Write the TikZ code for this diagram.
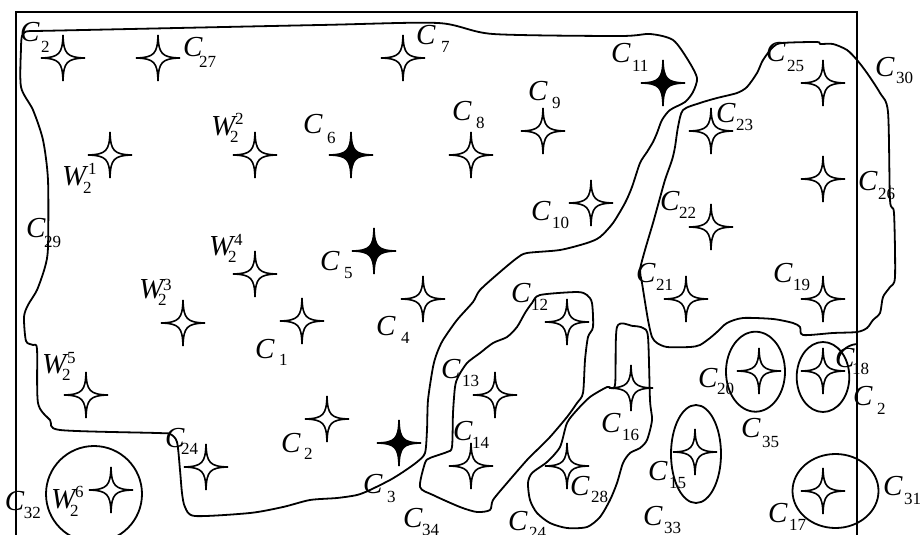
\documentclass[tikz,border=0pt]{standalone}
\usepackage{fontspec}
\setmainfont{Liberation Serif}
\newcommand\subf{\fontsize{17}{17}\selectfont}
\newcommand\clab[6]{\node[lab] (#1) at ({#2-2},#3) {\rlap{\textit{C}}\kern#4pt\raisebox{-#5pt}{\subf #6}};}
\newcommand\wlab[8]{\node[lab] (#1) at ({#2-1},#3) {\rlap{\textit{W}}\rlap{\kern#4pt\raisebox{-#5pt}{\subf 2}}\kern#6pt\raisebox{#7pt}{\subf #8}};}
\tikzset{
  lab/.style={anchor=base west,inner sep=0pt,outer sep=0pt,font=\fontsize{29}{29}\selectfont},
  region/.style={draw=black,line width=1.8pt,line join=round},
  frameline/.style={draw=black,line width=1.8pt},
  starpath/.style={line width=1.6pt,line join=miter},
  ostar/.pic={\draw[starpath] (0,-23) .. controls (0.6,-4) and (4,-0.6) .. (22,0) .. controls (4,0.6) and (0.6,4) .. (0,23) .. controls (-0.6,4) and (-4,0.6) .. (-22,0) .. controls (-4,-0.6) and (-0.6,-4) .. cycle;},
  fstar/.pic={\fill[draw=black,starpath] (0,-23) .. controls (0.6,-4) and (4,-0.6) .. (22,0) .. controls (4,0.6) and (0.6,4) .. (0,23) .. controls (-0.6,4) and (-4,0.6) .. (-22,0) .. controls (-4,-0.6) and (-0.6,-4) .. cycle;}
}
\begin{document}
\begin{tikzpicture}[x=1pt,y=-1pt]
\useasboundingbox (0,0) rectangle (921,535);
\fill[white] (0,0) rectangle (921,535);
% frame
\draw[frameline] (16,535) -- (16,11.7) -- (856.7,11.7) -- (856.7,535);
% big region
\draw[region] plot[smooth cycle,tension=0.45] coordinates {
(26,31.5) (22,36) (21,48) (21,87) (33,110) (43,140) (48,180) (48,247) (45,267) (37,290) (28,305) (24,317) (26,341) (33,345) (37,349) (38,403) (50,420) (60,430) (157,433) (170,434) (177,442) (180,470) (182,493) (185,507) (195,516) (250,513) (283,507) (310,500) (337,498) (357,495) (370,490) (390,480) (403,472) (417,462) (425,453) (427,430) (428,400) (433,367) (437,353) (443,340) (457,320) (473,302) (480,290) (500,272) (517,258) (527,253) (560,250) (587,243) (600,237) (613,223) (625,203) (632,187) (640,163) (647,152) (653,142) (657,133) (662,120) (670,110) (685,102) (693,92) (697,78) (688,60) (673,40) (650,34) (620,36) (493,34) (438,23) (320,25) (60,30.5) (35,31)};
% C12-C14 region
\draw[region] plot[smooth cycle,tension=0.45] coordinates {
(540,295) (577,292) (587,295) (592,303) (593,327) (588,337) (585,360) (583,393) (577,403) (567,417) (550,437) (537,450) (527,460) (507,483) (493,500) (490,510) (477,512) (460,507) (433,495) (420,487) (425,463) (430,458) (447,452) (452,447) (453,413) (455,387) (458,377) (467,363) (480,353) (493,343) (507,337) (517,327) (525,313) (532,303)};
% C16-C28 region
\draw[region] plot[smooth cycle,tension=0.45] coordinates {
(617,327) (633,326) (643,328) (648,337) (650,400) (652,420) (647,440) (640,448) (630,453) (623,463) (617,483) (610,500) (600,517) (587,527) (567,528) (550,523) (537,513) (530,500) (528,483) (532,473) (547,462) (560,447) (567,423) (577,410) (590,397) (607,387) (615,385)};
% right region
\draw[region] plot[smooth cycle,tension=0.45] coordinates {
(683,110) (700,103) (717,98) (737,93) (747,87) (757,73) (763,60) (773,47) (782,43) (817,42) (820,44) (833,44) (847,50) (857,60) (867,73) (880,93) (888,112) (890,200) (894,213) (895,277) (890,287) (883,297) (880,313) (873,320) (867,328) (857,332) (833,333) (803,335) (800,327) (793,323) (773,319) (743,318) (727,323) (717,332) (710,338) (700,345) (690,347) (667,347) (657,343) (652,337) (648,320) (642,283) (640,270) (645,250) (653,223) (658,205) (665,180) (672,160) (675,147) (678,127)};
% ellipses
\draw[region] (755.5,371.7) ellipse [x radius=29.5, y radius=40];
\draw[region] (823,377) ellipse [x radius=26.3, y radius=35];
\draw[region] (696,454) ellipse [x radius=25, y radius=49];
\draw[region] (835.5,491) ellipse [x radius=43, y radius=37];
\draw[region] (94,494) circle [radius=48];
\draw[region] (856.7,344) .. controls (846,345) and (838,353) .. (838,363);
% open stars
\foreach \p in {(63,58),(158,58),(403,58),(110,155),(255,155),(471,155),(543,131),(591,203),(823,83),(711,131),(823,179),(711,227),(255,274),(183,323),(302,321),(86,395),(206,467),(111,490),(423,299),(327,419),(567,322),(495,395),(471,466),(567,466),(686,299),(823,299),(631,388),(759,371),(823,371),(695,452),(823,491)}
  \pic at \p {ostar};
% filled stars
\foreach \p in {(351,155),(374,251),(663,83),(399,443)}
  \pic at \p {fstar};
% C labels
\clab{c2a}{22}{42}{21}{10}{2}
\clab{c27}{185}{57}{16}{10}{27}
\clab{c7}{418}{45}{25}{8}{7}
\clab{c6}{305}{133}{24}{10}{6}
\clab{c8}{454}{120}{24}{8}{8}
\clab{c9}{530}{100}{24}{8}{9}
\clab{c10}{533}{220}{21}{8}{10}
\clab{c11}{613}{63}{21}{9}{11}
\clab{c25}{768}{62}{21}{10}{25}
\clab{c30}{877}{77}{21}{7}{30}
\clab{c23}{718}{122}{20}{8}{23}
\clab{c26}{860}{190}{20}{9}{26}
\clab{c22}{662}{210}{19}{8}{22}
\clab{c21}{638}{282}{20}{8}{21}
\clab{c19}{775}{282}{20}{8}{19}
\clab{c29}{28}{237}{18}{10}{29}
\clab{c5}{322}{270}{24}{8}{5}
\clab{c4}{378}{335}{25}{8}{4}
\clab{c1}{257}{358}{24}{7}{1}
\clab{c12}{513}{302}{20}{8}{12}
\clab{c13}{443}{378}{21}{8}{13}
\clab{c14}{455}{440}{19}{8}{14}
\clab{c2b}{283}{452}{23}{7}{2}
\clab{c24a}{167}{447}{16}{7}{24}
\clab{c3}{365}{493}{24}{9}{3}
\clab{c34}{405}{527}{19}{8}{34}
\clab{c28}{572}{495}{21}{7}{28}
\clab{c24b}{510}{530}{21}{8}{24}
\clab{c16}{603}{432}{21}{8}{16}
\clab{c20}{700}{387}{19}{7}{20}
\clab{c35}{743}{437}{21}{10}{35}
\clab{c18}{837}{367}{17}{7}{18}
\clab{c2c}{855}{405}{24}{9}{2}
\clab{c15}{650}{480}{21}{8}{15}
\clab{c33}{645}{525}{21}{8}{33}
\clab{c31}{885}{495}{21}{9}{31}
\clab{c17}{770}{522}{21}{8}{17}
\clab{c32}{7}{510}{19}{8}{32}
% W labels
\wlab{w1}{63}{185}{21}{8}{26}{11}{1}
\wlab{w2}{212}{135}{19}{7}{24}{11}{2}
\wlab{w4}{210}{255}{19}{7}{25}{10}{4}
\wlab{w3}{140}{298}{19}{7}{24}{8}{3}
\wlab{w5}{43}{373}{20}{7}{25}{10}{5}
\wlab{w6}{52}{508}{19}{8}{24}{11}{6}
\end{tikzpicture}
\end{document}
